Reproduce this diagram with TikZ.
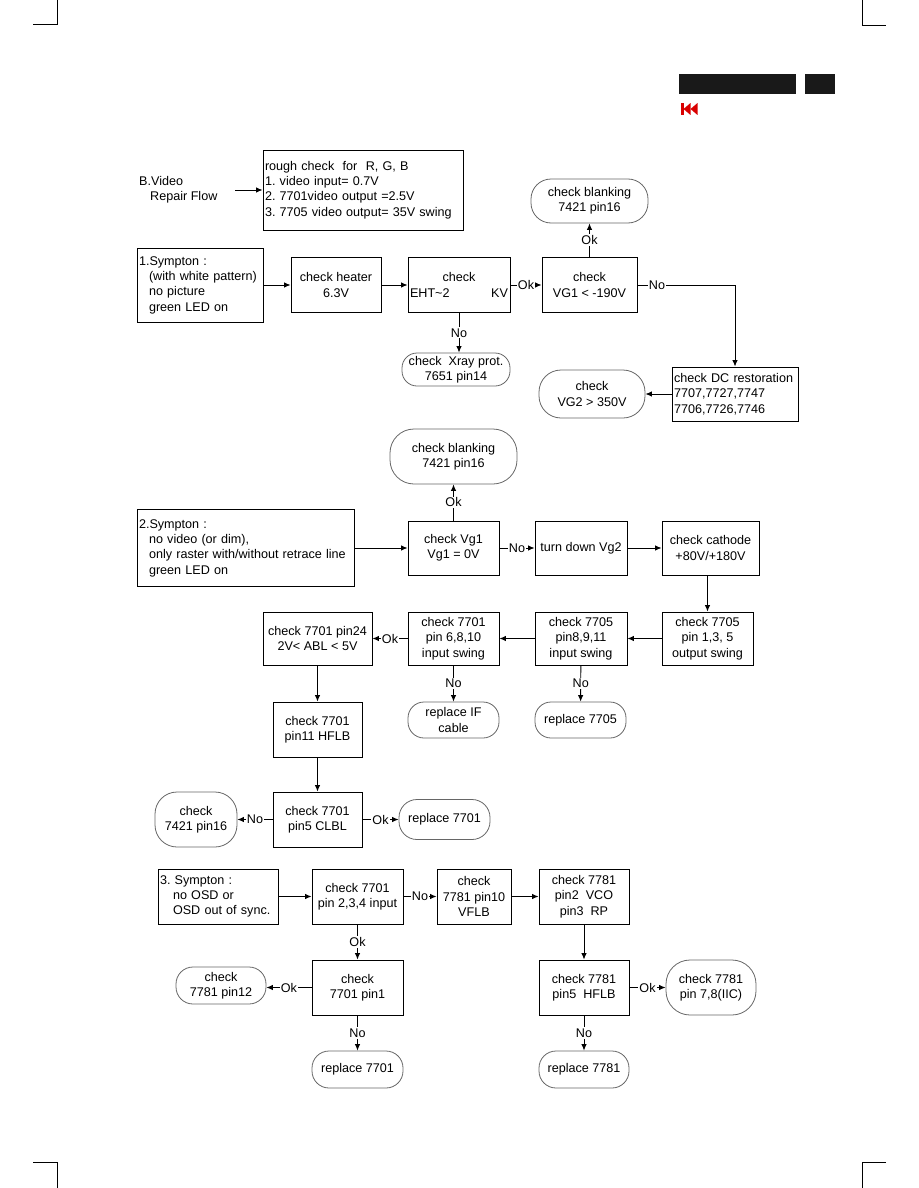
\documentclass[tikz,border=0pt]{standalone}
\usepackage{fontspec}
\setmainfont{Liberation Sans}
\usetikzlibrary{arrows.meta}
\frenchspacing
\begin{document}
\begin{tikzpicture}[x=1pt,y=-1pt,
  font=\fontsize{12.6}{15.3}\selectfont,
  box/.style={draw, line width=0.9pt, inner sep=2pt, align=center},
  term/.style={draw=black!60, line width=0.8pt, rounded corners=15pt, inner sep=2pt, align=center},
  arr/.style={line width=0.9pt, -{Latex[length=6.5pt,width=5.5pt]}},
  lbl/.style={fill=white, inner sep=1.2pt}]
\useasboundingbox (0,0) rectangle (918,1188);
% crop marks and header
\draw[line width=1pt] (57.7,0) -- (57.7,25) -- (33,25);
\draw[line width=1pt] (862,0) -- (862,26) -- (886,26);
\draw[line width=1pt] (33,1162) -- (57.7,1162) -- (57.7,1188);
\draw[line width=1pt] (886,1162) -- (862,1162) -- (862,1188);
\fill[black!90] (679,74) rectangle (796,94);
\fill[black!90] (805,74) rectangle (835,94);
\fill[red!85!black] (681,103) rectangle (683.5,115);
\fill[red!85!black] (683.5,109) -- (690.5,103) -- (690.5,115) -- cycle;
\fill[red!85!black] (690.5,109) -- (697.5,103) -- (697.5,115) -- cycle;

% ---------- intro ----------
\node[anchor=west, inner sep=0pt, align=left] (bvideo) at (139,190) {B.Video\\\hspace*{11pt}Repair Flow};
\node[box, minimum height=80pt, text width=196pt, align=left] (rough) at (363,190)
  {rough check\ \ for\ \ R, G, B\\1. video input= 0.7V\\2. 7701video output =2.5V\\3. 7705 video output= 35V swing};
\coordinate (bv) at (235,190);
\draw[arr] (bv) -- (rough.west);

% ---------- section 1 ----------
\node[box, minimum height=74pt, text width=122pt, align=left] (s1) at (200,285)
  {1.Sympton :\\\hspace*{10pt}(with white pattern)\\\hspace*{10pt}no picture\\\hspace*{10pt}green LED on};
\node[box, minimum width=90pt, minimum height=55pt] (heat) at (336,285) {check heater\\6.3V};
\node[box, minimum width=102pt, minimum height=55pt, text width=98pt] (eht) at (459,285)
  {check\\\makebox[98pt]{EHT\textasciitilde 2\hfill KV}};
\node[box, minimum width=95pt, minimum height=55pt] (vg1) at (589.5,285) {check\\VG1 < -190V};
\node[term, minimum width=117pt, minimum height=44pt, rounded corners=20pt] (bl1) at (589.5,201) {check blanking\\7421 pin16};
\node[term, minimum width=108pt, minimum height=33pt, rounded corners=15pt] (xray) at (456,369.5) {check\ \ Xray prot.\\7651 pin14};
\node[box, minimum height=54pt, text width=122pt, align=left] (dc) at (735,394)
  {check DC restoration\\7707,7727,7747\\7706,7726,7746};
\node[term, minimum width=106pt, minimum height=48pt, rounded corners=22pt] (vg2) at (592,394) {check\\VG2 > 350V};

\draw[arr] (s1.east) -- (heat.west);
\draw[arr] (heat) -- (eht);
\draw[arr] (eht) -- node[lbl]{Ok} (vg1);
\draw[arr] (vg1) -- node[lbl]{Ok} (bl1);
\draw[arr] (vg1.east) -- node[lbl,pos=0.2]{No} (vg1.east -| dc.north) -- (dc.north);
\draw[arr] (eht.south) -- node[lbl]{No} (eht.south |- xray.north);
\draw[arr] (dc.west) -- (vg2.east);

% ---------- section 2 ----------
\node[term, minimum width=127pt, minimum height=55pt, rounded corners=24pt] (bl2) at (453.5,456.5) {check blanking\\7421 pin16};
\node[box, minimum width=91pt, minimum height=54pt] (vg1b) at (453.5,548) {check Vg1\\Vg1 = 0V};
\node[box, minimum height=77pt, text width=213pt, align=left] (s2) at (245.5,548)
  {2.Sympton :\\\hspace*{10pt}no video (or dim),\\\hspace*{10pt}only raster with/without retrace line\\\hspace*{10pt}green LED on};
\node[box, minimum width=92pt, minimum height=54pt] (turn) at (581,548) {turn down Vg2};
\node[box, minimum width=97pt, minimum height=54pt] (cath) at (710.5,548) {check cathode\\+80V/+180V};
\node[box, minimum width=91pt, minimum height=53pt] (out) at (707.5,638.5) {check 7705\\pin 1,3, 5\\output swing};
\node[box, minimum width=92pt, minimum height=53pt] (pin8) at (581,638.5) {check 7705\\pin8,9,11\\input swing};
\node[box, minimum width=91pt, minimum height=53pt] (pin6) at (453.5,638.5) {check 7701\\pin 6,8,10\\input swing};
\node[box, minimum width=109pt, minimum height=53pt] (pin24) at (317.5,638.5) {check 7701 pin24\\2V< ABL < 5V};
\node[term, minimum width=91pt, minimum height=36pt, rounded corners=16pt] (ifc) at (453.5,720) {replace IF\\cable};
\node[term, minimum width=91pt, minimum height=36pt, rounded corners=16pt] (r7705) at (580.5,720) {replace 7705};
\node[box, minimum width=89pt, minimum height=55pt] (hflb) at (317.5,729.5) {check 7701\\pin11 HFLB};
\node[box, minimum width=89pt, minimum height=55pt] (clbl) at (317.5,819.5) {check 7701\\pin5 CLBL};
\node[term, minimum width=82pt, minimum height=55pt, rounded corners=22pt] (c7421) at (196,819.5) {check\\7421 pin16};
\node[term, minimum width=91pt, minimum height=40pt, rounded corners=18pt] (r7701a) at (444.5,819.5) {replace 7701};

\draw[arr] (vg1b) -- node[lbl]{Ok} (bl2);
\draw[arr] (s2.east) -- (vg1b.west);
\draw[arr] (vg1b) -- node[lbl]{No} (turn);
\draw[arr] (turn) -- (cath);
\draw[arr] (cath.south -| out.north) -- (out.north);
\draw[arr] (out) -- (pin8);
\draw[arr] (pin8) -- (pin6);
\draw[arr] (pin6) -- node[lbl]{Ok} (pin24);
\draw[arr] (pin6) -- node[lbl]{No} (ifc);
\draw[arr] (pin8) -- node[lbl]{No} (r7705);
\draw[arr] (pin24) -- (hflb);
\draw[arr] (hflb) -- (clbl);
\draw[arr] (clbl) -- node[lbl]{No} (c7421);
\draw[arr] (clbl) -- node[lbl]{Ok} (r7701a);

% ---------- section 3 ----------
\node[box, minimum height=55pt, text width=116pt, align=left] (s3) at (218,896.5)
  {3. Sympton :\\\hspace*{13pt}no OSD or\\\hspace*{13pt}OSD out of sync.};
\node[box, minimum width=91pt, minimum height=55pt] (p234) at (357.5,896.5) {check 7701\\pin 2,3,4 input};
\node[box, minimum width=74pt, minimum height=55pt] (p10) at (474,896.5) {check\\7781 pin10\\VFLB};
\node[box, minimum width=90pt, minimum height=55pt] (vco) at (584,896.5) {check 7781\\pin2\ \ VCO\\pin3\ \ RP};
\node[box, minimum width=91pt, minimum height=55pt] (p1) at (357.5,987.5) {check\\7701 pin1};
\node[box, minimum width=90pt, minimum height=55pt] (hflb3) at (584,987.5) {check 7781\\pin5\ \ HFLB};
\node[term, minimum width=90pt, minimum height=55pt, rounded corners=24pt] (p78) at (711,987.5) {check 7781\\pin 7,8(IIC)};
\node[term, minimum width=90pt, minimum height=37pt, rounded corners=17pt] (p12) at (221,985.5) {check\\7781 pin12};
\node[term, minimum width=91pt, minimum height=37pt, rounded corners=17pt] (r7701b) at (357.5,1069.5) {replace 7701};
\node[term, minimum width=90pt, minimum height=37pt, rounded corners=17pt] (r7781) at (584,1069.5) {replace 7781};

\draw[arr] (s3) -- (p234);
\draw[arr] (p234) -- node[lbl]{No} (p10);
\draw[arr] (p10) -- (vco);
\draw[arr] (vco) -- (hflb3);
\draw[arr] (hflb3) -- node[lbl]{Ok} (p78);
\draw[arr] (hflb3) -- node[lbl]{No} (r7781);
\draw[arr] (p234) -- node[lbl]{Ok} (p1);
\draw[arr] (p1.west) -- node[lbl]{Ok} (p1.west -| p12.east);
\draw[arr] (p1) -- node[lbl]{No} (r7701b);
\end{tikzpicture}
\end{document}
